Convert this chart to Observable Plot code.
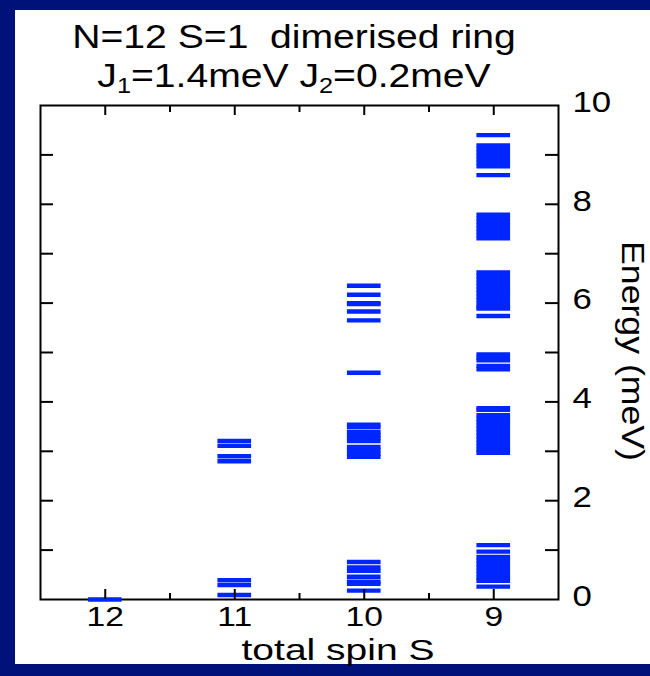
<!DOCTYPE html>
<html>
<head>
<meta charset="utf-8">
<script src="https://cdn.jsdelivr.net/npm/d3@7"></script>
<script src="https://cdn.jsdelivr.net/npm/@observablehq/plot@0.6"></script>
<style>
  html, body { margin: 0; padding: 0; }
  body { width: 650px; height: 676px; background: #00117a; position: relative; overflow: hidden;
         font-family: Arial, "Liberation Sans", sans-serif; color: #000; }
  #panel { position: absolute; left: 15px; top: 10px; width: 635px; height: 654px; background: #fff; }
  #title { position: absolute; left: 0; top: 17px; width: 588px; text-align: center; font-size: 34px; line-height: 39px;
           transform: scaleX(1.15); transform-origin: 50% 50%; }
  #title sub { font-size: 22px; vertical-align: -6px; line-height: 0; }
  #xlabel { position: absolute; left: 0; top: 637px; width: 676px; text-align: center; font-size: 30px; line-height: 26px;
            transform: scaleX(1.3); transform-origin: 50% 50%; }
  #ylabel { position: absolute; left: 482px; top: 333px; width: 300px; height: 36px; text-align: center;
            font-size: 31px; line-height: 36px; transform: rotate(90deg) scaleX(1.15); transform-origin: 50% 50%; }
  #chart { position: absolute; left: 0; top: 0; }
</style>
</head>
<body>
<div id="panel"></div>
<div id="chart"></div>
<div id="title">N=12 S=1&nbsp; dimerised ring<br>J<sub>1</sub>=1.4meV J<sub>2</sub>=0.2meV</div>
<div id="xlabel">total spin S</div>
<div id="ylabel">Energy (meV)</div>
<script>
// Total spin sectors (x axis, reversed)
const spins = [12, 11, 10, 9];
const spinMinor = [11.5, 10.5, 9.5];
// Energy ticks (meV)
const energyLabels = [0, 2, 4, 6, 8, 10];
const energyTicks = [1, 2, 3, 4, 5, 6, 7, 8, 9];

// Energy levels (meV), per total-spin sector
const levels12 = [0];
const levels11 = [3.21, 3.11, 2.90, 2.80, 0.39, 0.29, 0.09];
const levels10 = [6.35, 6.17, 6.00, 5.98, 5.83, 5.65, 4.59,
  3.54, 3.49, 3.39, 3.33, 3.27, 3.21, 3.09, 3.02, 2.95, 2.89,
  0.76, 0.65, 0.58, 0.46, 0.36, 0.32, 0.18];
const levels9 = [9.40, 9.19, 9.12, 9.05, 8.98, 8.91, 8.84, 8.77, 8.59,
  7.79, 7.72, 7.65, 7.58, 7.51, 7.44, 7.37, 7.31,
  6.62, 6.55, 6.48, 6.41, 6.34, 6.27, 6.20, 6.13, 6.06, 5.99, 5.92, 5.89, 5.74,
  4.96, 4.90, 4.84, 4.73, 4.66,
  3.87, 3.84, 3.73, 3.66, 3.59, 3.52, 3.45, 3.38, 3.31, 3.24, 3.17, 3.10, 3.03, 2.97,
  1.10, 0.97, 0.86, 0.79, 0.72, 0.65, 0.58, 0.51, 0.44, 0.38, 0.26];

const table = [
  ...levels12.map(E => ({S: 12, E})),
  ...levels11.map(E => ({S: 11, E})),
  ...levels10.map(E => ({S: 10, E})),
  ...levels9.map(E => ({S: 9, E}))
];

const W = 650, H = 676;
const mL = 40, mR = 92, mT = 105, mB = 77;
const innerH = H - mT - mB, innerW = W - mL - mR;
const halfWidth = 0.13;

const chart = Plot.plot({
  width: W, height: H,
  marginLeft: mL, marginRight: mR, marginTop: mT, marginBottom: mB,
  x: {domain: [12.5, 8.5]},
  y: {domain: [0, 10]},
  style: {background: "transparent", fontFamily: "Arial, 'Liberation Sans', sans-serif", color: "#000", overflow: "visible"},
  marks: [
    Plot.frame({stroke: "#000", strokeWidth: 2}),
    Plot.ruleY(table, {y: "E", x1: d => d.S - halfWidth, x2: d => d.S + halfWidth, stroke: "#0026ff", strokeWidth: 4.4}),
    // inward ticks, bottom and top
    Plot.ruleX(spins, {x: d => d, insetTop: innerH - 10, stroke: "#000", strokeWidth: 2}),
    Plot.ruleX(spins, {x: d => d, insetBottom: innerH - 10, stroke: "#000", strokeWidth: 2}),
    Plot.ruleX(spinMinor, {x: d => d, insetTop: innerH - 6, stroke: "#000", strokeWidth: 2}),
    Plot.ruleX(spinMinor, {x: d => d, insetBottom: innerH - 7, stroke: "#000", strokeWidth: 2}),
    // inward ticks, left and right
    Plot.ruleY(energyTicks, {y: d => d, insetRight: innerW - 13, stroke: "#000", strokeWidth: 2}),
    Plot.ruleY(energyTicks, {y: d => d, insetLeft: innerW - 13, stroke: "#000", strokeWidth: 2}),
    Plot.axisX(spins, {tickSize: 0, tickPadding: 7, fontSize: 28, label: null, tickFormat: d => String(d)}),
    Plot.axisY(energyLabels, {anchor: "right", tickSize: 0, tickPadding: 14, fontSize: 29, label: null, dy: -3, tickFormat: d => String(d)})
  ]
});
// the reference's lettering is horizontally wide: stretch tick labels about their anchors
chart.querySelectorAll('g[aria-label="x-axis tick label"] text, g[aria-label="y-axis tick label"] text').forEach(t => {
  const tr = t.getAttribute("transform");
  if (tr) t.setAttribute("transform", tr + " scale(1.2,1)");
});
document.getElementById("chart").appendChild(chart);
</script>
</body>
</html>
